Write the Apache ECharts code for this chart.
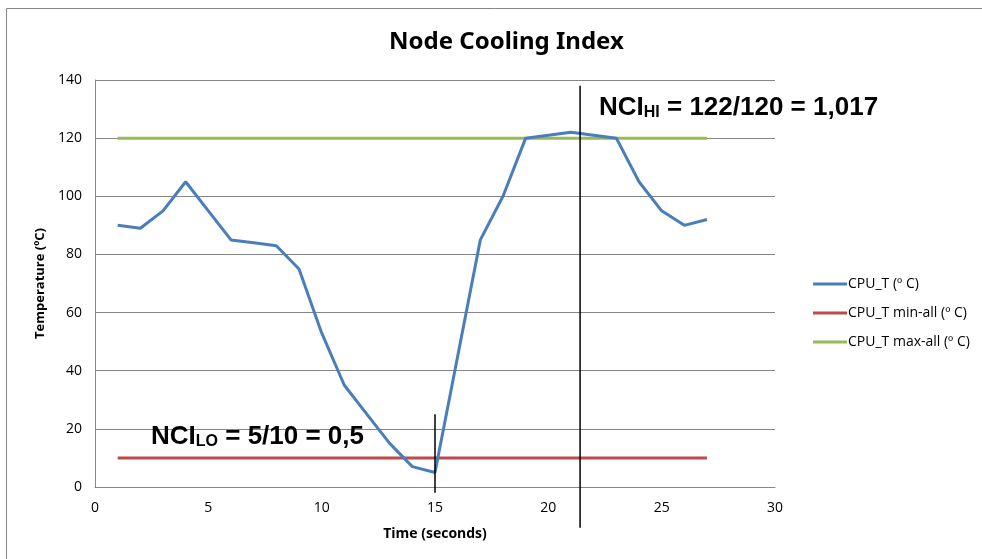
<!DOCTYPE html>
<html>
<head>
<meta charset="utf-8">
<title>Node Cooling Index</title>
<script src="https://cdn.jsdelivr.net/npm/echarts@6/dist/echarts.min.js"></script>
<style>
  html, body { margin: 0; padding: 0; background: #fff; }
  #myChart { width: 982px; height: 559px; }
</style>
</head>
<body>
<div id="myChart"></div>
<script>
// data
var timeList = [1, 2, 3, 4, 5, 6, 7, 8, 9, 10, 11, 12, 13, 14, 15, 16, 17, 18, 19, 20, 21, 22, 23, 24, 25, 26, 27]
var cpuTList = [90, 89, 95, 105, 95, 85, 84, 83, 75, 53, 35, 25, 15, 7, 5, 45, 85, 100, 120, 121, 122, 121, 120, 105, 95, 90, 92]
var minAll = 10
var maxAll = 120
var xTicks = {min: 0, max: 30, interval: 5}
var yTicks = {min: 0, max: 140, interval: 20}
// the two black marker lines [x, yFrom, yTo]
var loMarker = [15, -2, 25]
var hiMarker = [21.4, -14, 138]

var minList = timeList.map(function (t) { return [t, minAll] })
var maxList = timeList.map(function (t) { return [t, maxAll] })
var cpuData = timeList.map(function (t, i) { return [t, cpuTList[i]] })

var font = 'Open Sans'
var myChart = echarts.init(document.getElementById('myChart'))
myChart.setOption({
    animation: false,
    backgroundColor: '#fff',
    title: {
        text: 'Node Cooling Index',
        left: 384,
        top: 25,
        textStyle: {fontFamily: 'Noto Sans', fontSize: 24, fontWeight: 'bold', color: '#000'}
    },
    legend: {
        orient: 'vertical',
        left: 808,
        top: 272,
        itemWidth: 34,
        itemHeight: 3,
        itemGap: 15,
        icon: 'rect',
        textStyle: {fontFamily: font, fontSize: 14, color: '#000', padding: [0, 0, 0, -4]},
        data: ['CPU_T (º C)', 'CPU_T min-all (º C)', 'CPU_T max-all (º C)']
    },
    grid: {left: 95, right: 207, top: 80, bottom: 72},
    xAxis: {
        type: 'value',
        min: xTicks.min,
        max: xTicks.max,
        interval: xTicks.interval,
        name: 'Time (seconds)',
        nameLocation: 'middle',
        nameGap: 40,
        nameTextStyle: {fontFamily: font, fontSize: 14, fontWeight: 'bold', color: '#000'},
        axisLine: {lineStyle: {color: '#868686', width: 1}},
        axisTick: {show: false},
        axisLabel: {fontFamily: font, fontSize: 14, color: '#000', margin: 14},
        splitLine: {show: false}
    },
    yAxis: {
        type: 'value',
        min: yTicks.min,
        max: yTicks.max,
        interval: yTicks.interval,
        name: 'Temperature (ºC)',
        nameLocation: 'middle',
        nameGap: 45,
        nameTextStyle: {fontFamily: font, fontSize: 13, fontWeight: 'bold', color: '#000'},
        axisLine: {show: true, lineStyle: {color: '#868686', width: 1}},
        axisTick: {show: false},
        axisLabel: {fontFamily: font, fontSize: 14, color: '#000', margin: 13},
        splitLine: {lineStyle: {color: '#868686', width: 1}}
    },
    graphic: [
        {
            type: 'rect',
            shape: {x: 6.5, y: 8.5, width: 1000, height: 600},
            style: {fill: 'none', stroke: '#868686', lineWidth: 1},
            silent: true
        },
        {
            type: 'text',
            left: 599,
            top: 95,
            z: 10,
            style: {
                text: '{a|NCI}{b|HI}{a| = 122/120 = 1,017}',
                rich: {
                    a: {fontFamily: 'Liberation Sans', fontSize: 26, fontWeight: 'bold', fill: '#000', verticalAlign: 'bottom', lineHeight: 32},
                    b: {fontFamily: 'Liberation Sans', fontSize: 16, fontWeight: 'bold', fill: '#000', verticalAlign: 'bottom', lineHeight: 24}
                }
            }
        },
        {
            type: 'text',
            left: 151,
            top: 424,
            z: 10,
            style: {
                text: '{a|NCI}{b|LO}{a| = 5/10 = 0,5}',
                rich: {
                    a: {fontFamily: 'Liberation Sans', fontSize: 26, fontWeight: 'bold', fill: '#000', verticalAlign: 'bottom', lineHeight: 32},
                    b: {fontFamily: 'Liberation Sans', fontSize: 16, fontWeight: 'bold', fill: '#000', verticalAlign: 'bottom', lineHeight: 24}
                }
            }
        }
    ],
    series: [
        {
            name: 'CPU_T min-all (º C)',
            type: 'line',
            data: minList,
            symbol: 'none',
            color: '#BE4B48',
            lineStyle: {width: 3, color: '#BE4B48'}
        },
        {
            name: 'CPU_T max-all (º C)',
            type: 'line',
            data: maxList,
            symbol: 'none',
            color: '#98B954',
            lineStyle: {width: 3, color: '#98B954'}
        },
        {
            name: 'CPU_T (º C)',
            type: 'line',
            data: cpuData,
            symbol: 'none',
            color: '#4A7EBB',
            lineStyle: {width: 3, color: '#4A7EBB'},
            z: 3
        },
        {
            name: 'loMarker',
            type: 'line',
            data: [[loMarker[0], loMarker[1]], [loMarker[0], loMarker[2]]],
            symbol: 'none',
            clip: false,
            lineStyle: {width: 1.5, color: '#000'},
            z: 4
        },
        {
            name: 'hiMarker',
            type: 'line',
            data: [[hiMarker[0], hiMarker[1]], [hiMarker[0], hiMarker[2]]],
            symbol: 'none',
            clip: false,
            lineStyle: {width: 1.5, color: '#000'},
            z: 4
        }
    ]
})
</script>
</body>
</html>
